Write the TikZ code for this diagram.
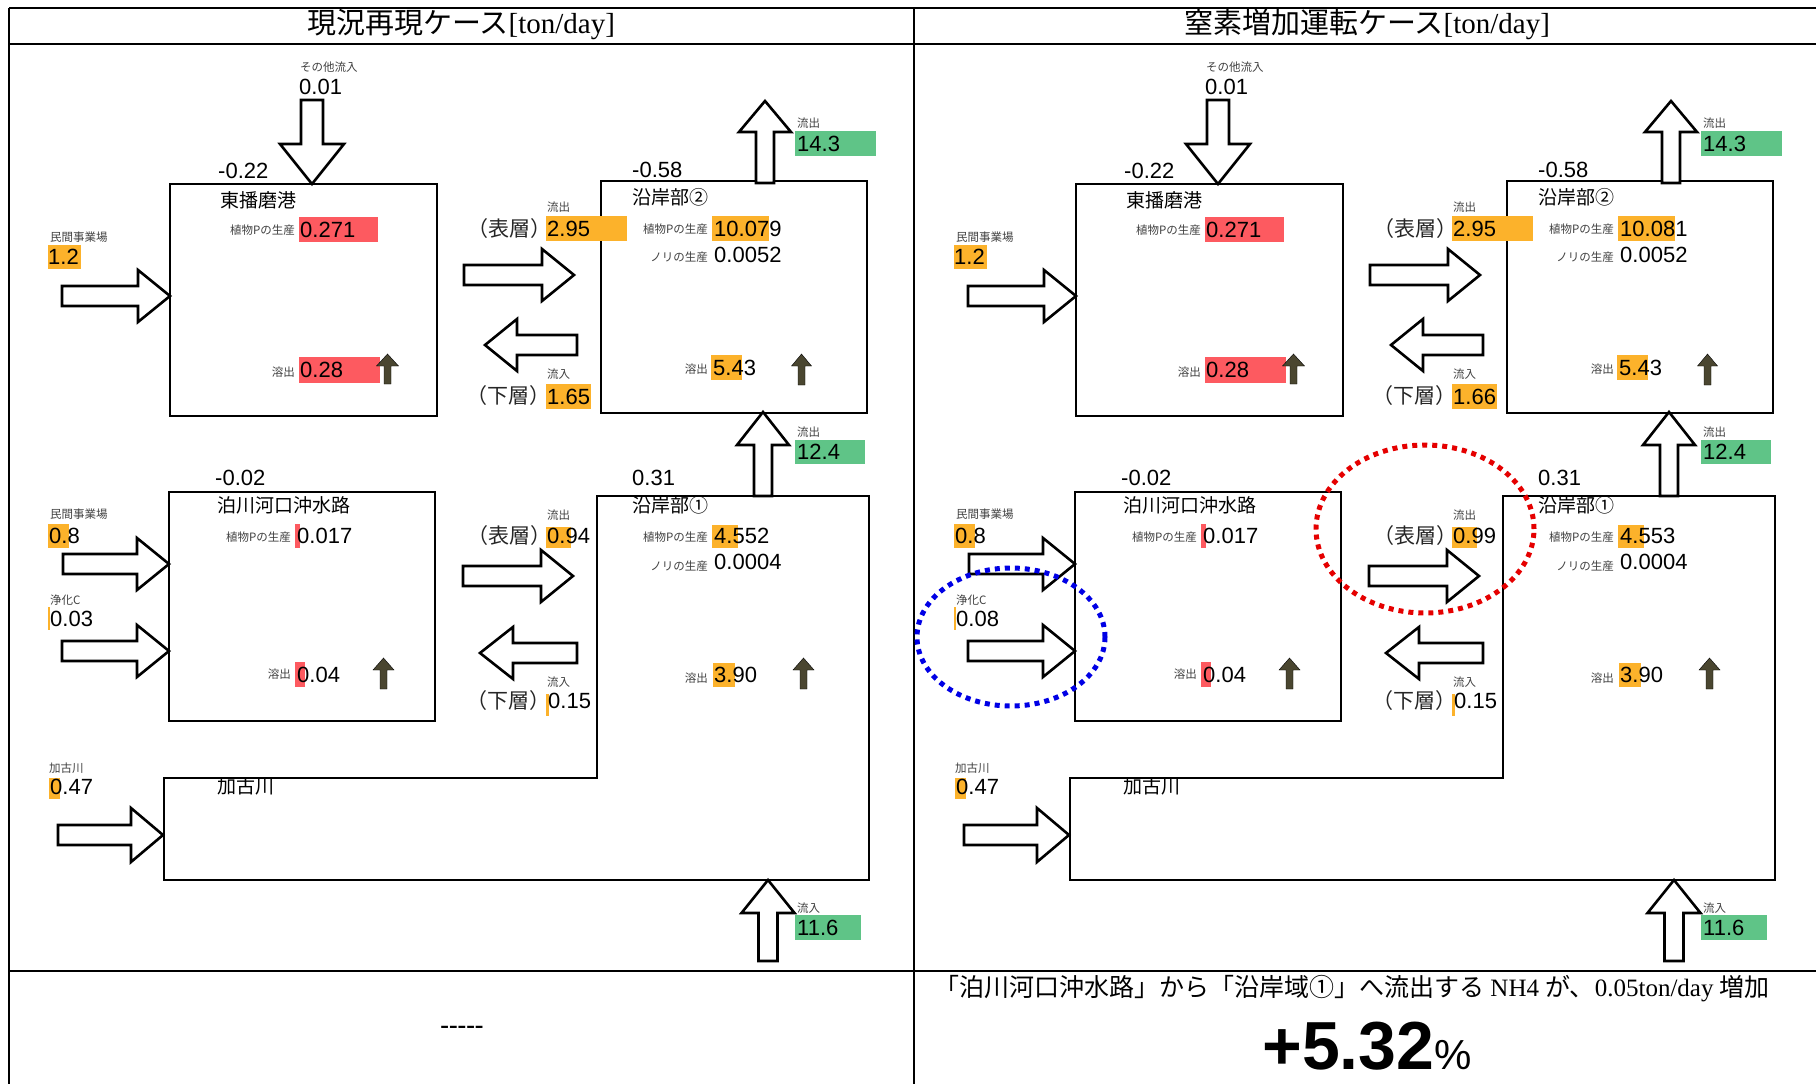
\documentclass[tikz,border=0pt]{standalone}
\usepackage{fontspec}
\setmainfont{Liberation Sans}
\newfontfamily\jp{Noto Sans CJK JP}
\newfontfamily\serifrm{Liberation Serif}
\usetikzlibrary{positioning}
\definecolor{hlorange}{HTML}{FCB22B}
\definecolor{hlred}{HTML}{FD5A60}
\definecolor{hlgreen}{HTML}{5FC487}
\definecolor{darkmark}{HTML}{4A4630}

% block arrow: [style]{tail}{angle}{length}{head length}{head half width}{shaft half width}
\newcommand{\blockarr}[7][blk]{%
  \draw[#1, shift={#2}, rotate=#3] (0,-#7) -- ({#4-#5},-#7) -- ({#4-#5},-#6) -- (#4,0)
    -- ({#4-#5},#6) -- ({#4-#5},#7) -- (0,#7) -- cycle;}

\begin{document}
\begin{tikzpicture}[
    x=1pt, y=-1pt,
    grid/.style={line width=2.4pt, draw=black},
    basin/.style={draw=black, line width=2.6pt, inner sep=0pt},
    blk/.style={draw=black, fill=white, line width=2.6pt, line join=miter},
    solmark/.style={fill=darkmark},
    num/.style={font=\fontsize{22}{22}\selectfont, inner sep=0pt, anchor=base west, yshift=2.5pt},
    tag/.style={font=\jp\fontsize{11.5}{12}\selectfont, text=black!75, inner sep=0pt, anchor=base west, yshift=1pt},
    tagr/.style={tag, anchor=base east},
    boxtitle/.style={font=\jp\fontsize{19}{19}\selectfont, inner sep=0pt, anchor=base west, yshift=2pt},
    layer/.style={font=\jp\fontsize{21}{21}\selectfont, text=black!85, inner sep=0pt, anchor=base west, yshift=1.5pt},
    head/.style={font=\fontsize{29}{29}\selectfont, inner sep=0pt, anchor=base},
    ring/.style={draw=#1, line width=5pt, dash pattern=on 5pt off 5pt},
  ]
  \useasboundingbox (0,0) rectangle (1816,1084);
  % ---- table
  \draw[grid] (9,8) -- (1816,8);
  \draw[grid] (9,44) -- (1816,44);
  \draw[grid] (9,971) -- (1816,971);
  \draw[grid] (9,8) -- (9,1084);
  \draw[grid] (914,8) -- (914,1084);
  \node[head] (hdL) at (461,34) {{\jp 現況再現ケース}{\serifrm [ton/day]}};
  \node[head] (hdR) at (1367,34) {{\jp 窒素増加運転ケース}{\serifrm [ton/day]}};
  % ---- both cases
  \foreach \dx/\pf/\lo/\pg/\sf/\jc [count=\k] in {0/10.079/1.65/4.552/0.94/0.03, 906/10.081/1.66/4.553/0.99/0.08} {
  \begin{scope}[xshift=\dx]
    % ---- basins
    \node[basin, minimum width=267, minimum height=232] (hb\k) at (303.5,300) {};
    \node[basin, minimum width=266, minimum height=232] (ca\k) at (734,297) {};
    \node[basin, minimum width=266, minimum height=229] (tk\k) at (302,606.5) {};
    \draw[basin] (597,496) -- (869,496) -- (869,880) -- (164,880) -- (164,778) -- (597,778) -- cycle;
    % ---- highlights
    \fill[hlred] (299,217) rectangle (378,242);
    \fill[hlred] (299,357) rectangle (380,383);
    \fill[hlorange] (48,245) rectangle (81,269);
    \fill[hlgreen] (795,131) rectangle (876,156);
    \fill[hlorange] (546,216) rectangle (627,241);
    \fill[hlorange] (546,384) rectangle (591,409);
    \fill[hlorange] (712,216) rectangle (769,241);
    \fill[hlorange] (711,355) rectangle (742,380);
    \fill[hlred] (295,524) rectangle (300,548);
    \fill[hlorange] (48,524) rectangle (69,548);
    \fill[hlorange] (48,607) rectangle (50,630);
    \fill[hlred] (295,662) rectangle (305,687);
    \fill[hlgreen] (795,440) rectangle (865,464);
    \fill[hlorange] (546,527) rectangle (571,548);
    \fill[hlorange] (546,694) rectangle (549,716);
    \fill[hlorange] (712,525) rectangle (738,548);
    \fill[hlorange] (713,663) rectangle (735,687);
    \fill[hlorange] (49,778) rectangle (60,799);
    \fill[hlgreen] (795,915) rectangle (861,940);
    % ---- block arrows
    \blockarr{(312,100)}{270}{84}{40}{32}{11}
    \blockarr{(62,296)}{0}{108}{32}{26}{10}
    \blockarr{(765,183)}{90}{82}{31}{26}{9}
    \blockarr{(464,275)}{0}{110}{32}{26}{10}
    \blockarr{(577,345)}{180}{92}{32}{26}{10}
    \blockarr{(63,564)}{0}{106}{32}{26}{10}
    \blockarr{(62,651)}{0}{107}{32}{26}{10}
    \blockarr{(763,496)}{90}{84}{33}{26}{9}
    \blockarr{(463,576)}{0}{110}{32}{26}{10}
    \blockarr{(577,653)}{180}{97}{33}{26}{10}
    \blockarr{(58,835)}{0}{105}{32}{27}{10}
    \blockarr{(768,961)}{90}{81}{33}{26.5}{9.5}
    % ---- release markers
    \blockarr[solmark]{(387.5,384)}{90}{30}{12}{11}{3.5}
    \blockarr[solmark]{(801.5,385)}{90}{31}{12}{10}{3.5}
    \blockarr[solmark]{(383.5,689)}{90}{31}{12}{10.5}{3.5}
    \blockarr[solmark]{(803.5,689)}{90}{31}{12}{10.5}{3.5}
    % ---- 東播磨港
    \node[tag] (oth\k) at (300,72) {その他流入};
    \node[num] (othv\k) at (299,97) {0.01};
    \node[num] (hbd\k) at (218,181) {-0.22};
    \node[boxtitle] (hbn\k) at (220,209) {東播磨港};
    \node[tagr] (hbp\k) at (295,235) {植物Pの生産};
    \node[num] (hbpv\k) at (300,240) {0.271};
    \node[tagr] (hbr\k) at (295,377) {溶出};
    \node[num] (hbrv\k) at (300,380) {0.28};
    \node[tag] (pv1\k) at (50,242) {民間事業場};
    \node[num] (pv1v\k) at (48,267) {1.2};
    % ---- 沿岸部②
    \node[num] (cbd\k) at (632,180) {-0.58};
    \node[boxtitle] (cbn\k) at (632,206) {沿岸部②};
    \node[tag] (cbo\k) at (797,128) {流出};
    \node[num] (cbov\k) at (797,154) {14.3};
    \node[tag] (su1\k) at (547,212) {流出};
    \node[layer] (su1l\k) at (467,238) {（表層）\kern-0.6em};
    \node[num] (su1v\k) at (547,239) {2.95};
    \node[tag] (bo1\k) at (547,379) {流入};
    \node[layer] (bo1l\k) at (466,405) {（下層）\kern-0.6em};
    \node[num] (bo1v\k) at (547,407) {\lo};
    \node[tagr] (cbp\k) at (708,234) {植物Pの生産};
    \node[num] (cbpv\k) at (714,239) {\pf};
    \node[tagr] (cbn2\k) at (708,262) {ノリの生産};
    \node[num] (cbnv\k) at (714,265) {0.0052};
    \node[tagr] (cbr\k) at (708,374) {溶出};
    \node[num] (cbrv\k) at (713,378) {5.43};
    % ---- 泊川河口沖水路
    \node[num] (tkd\k) at (215,488) {-0.02};
    \node[boxtitle] (tkn\k) at (217,514) {泊川河口沖水路};
    \node[tagr] (tkp\k) at (291,542) {植物Pの生産};
    \node[num] (tkpv\k) at (297,546) {0.017};
    \node[tag] (pv2\k) at (50,519) {民間事業場};
    \node[num] (pv2v\k) at (49,546) {0.8};
    \node[tag] (jc\k) at (50,605) {浄化C};
    \node[num] (jcv\k) at (50,629) {\jc};
    \node[tagr] (tkr\k) at (291,679) {溶出};
    \node[num] (tkrv\k) at (297,685) {0.04};
    % ---- 沿岸部①
    \node[num] (cad\k) at (632,488) {0.31};
    \node[boxtitle] (can\k) at (632,514) {沿岸部①};
    \node[tag] (cao\k) at (797,437) {流出};
    \node[num] (caov\k) at (797,462) {12.4};
    \node[tag] (su2\k) at (547,520) {流出};
    \node[layer] (su2l\k) at (467,545) {（表層）\kern-0.6em};
    \node[num] (su2v\k) at (547,546) {\sf};
    \node[tag] (bo2\k) at (547,687) {流入};
    \node[layer] (bo2l\k) at (466,710) {（下層）\kern-0.6em};
    \node[num] (bo2v\k) at (548,711) {0.15};
    \node[tagr] (cap\k) at (708,542) {植物Pの生産};
    \node[num] (capv\k) at (714,546) {\pg};
    \node[tagr] (can2\k) at (708,571) {ノリの生産};
    \node[num] (canv\k) at (714,572) {0.0004};
    \node[tagr] (car\k) at (708,683) {溶出};
    \node[num] (carv\k) at (714,685) {3.90};
    % ---- 加古川
    \node[tag] (kr\k) at (49,773) {加古川};
    \node[num] (krv\k) at (50,797) {0.47};
    \node[boxtitle] (krn\k) at (217,795) {加古川};
    \node[tag] (sea\k) at (797,913) {流入};
    \node[num] (seav\k) at (797,938) {11.6};
  \end{scope}
  }
  % ---- changes marked in the second case
  \draw[ring=blue!90!black] (1011,637) ellipse [x radius=94pt, y radius=69pt];
  \draw[ring=red!90!black] (1425,529) ellipse [x radius=109pt, y radius=84pt];
  % ---- bottom row
  \node[font=\serifrm\bfseries\fontsize{26}{26}\selectfont, inner sep=0pt, anchor=base] (none) at (462,1033) {-----};
  \node[font=\fontsize{25}{25}\selectfont, inner sep=0pt, anchor=base] (note) at (1352,996)
    {{\jp 「泊川河口沖水路」から「沿岸域①」へ流出する}{\serifrm\ NH4 }{\jp が、}{\serifrm 0.05ton/day }{\jp 増加}};
  \node[inner sep=0pt, anchor=base] (rate) at (1367,1069)
    {{\bfseries\fontsize{68}{68}\selectfont +5.32}{\fontsize{42}{42}\selectfont\%}};
\end{tikzpicture}
\end{document}
